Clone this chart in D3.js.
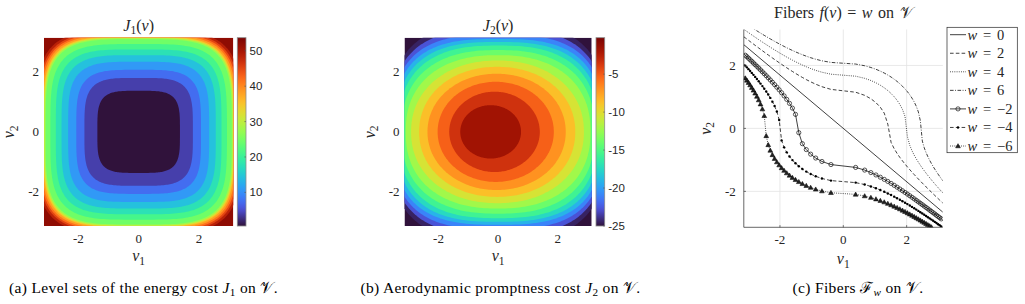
<!DOCTYPE html>
<html>
<head>
<meta charset="utf-8">
<script src="https://cdnjs.cloudflare.com/ajax/libs/d3/7.8.5/d3.min.js"></script>
<style>
  body { margin: 0; background: #fff; }
  svg text { font-family: "Liberation Serif", "Times New Roman", serif; fill: #262626; }
  svg text.cb { font-family: "Liberation Sans", Arial, sans-serif; }
  svg text.cap { fill: #000; letter-spacing: 0.35px; }
</style>
</head>
<body>
<script>
const PI = Math.PI;

// (a) J1: contour levels, their radius on the axes and on the diagonals
const j1Min = 0.5, j1Max = 53.7;
const j1Levels = [3.9, 7.4, 10.8, 14.2, 17.7, 21.1, 24.5, 27.9, 31.4, 34.8, 38.2, 41.7, 45.1, 48.5, 52.0];
const j1Axis = [1.37, 1.80, 2.07, 2.34, 2.56, 2.75, 2.93, 3.09, 3.125, 3.15, 3.18, 3.23, 3.285, 3.34, 3.406];
const j1Diag = [1.63, 2.14, 2.46, 2.78, 3.04, 3.27, 3.48, 3.67, 3.72, 3.75, 3.79, 3.85, 3.91, 3.97, 4.05];
const j1Ticks = [10, 20, 30, 40, 50];

// (b) J2: levels, centre along v1, radii along v1, along v2 and along the diagonals
const j2Min = -25, j2Max = -0.2;
const j2Levels = [-1.7, -3.45, -5.2, -6.95, -8.7, -10.45, -12.2, -13.95, -15.7, -17.45, -19.2, -20.95, -22.7, -24.45];
const j2Cx = [-0.25, -0.12, -0.08, -0.05, -0.03, -0.02, 0, 0, 0, 0, 0, 0, 0, 0];
const j2Rx = [1.02, 1.52, 1.95, 2.32, 2.62, 2.90, 3.10, 3.24, 3.34, 3.42, 3.49, 3.55, 3.61, 3.66];
const j2Ry = [0.89, 1.34, 1.67, 1.94, 2.17, 2.38, 2.56, 2.73, 2.88, 3.00, 3.10, 3.24, 3.42, 3.61];
const j2Diag = [0.95, 1.42, 1.80, 2.12, 2.40, 2.66, 2.92, 3.14, 3.34, 3.50, 3.64, 3.78, 3.92, 4.07];
const j2Ticks = [-25, -20, -15, -10, -5];

const axisTicks = [-2, 0, 2];

// (c) fibers f(v) = w, sampled on a common v1 grid
const fibV1 = [-3.1416,-3.0929,-3.0434,-2.9931,-2.9419,-2.8898,-2.8368,-2.7828,-2.7277,-2.6714,-2.6140,-2.5552,-2.4951,-2.4335,-2.3703,-2.3053,-2.2385,-2.1696,-2.0984,-2.0248,-1.9483,-1.8688,-1.7857,-1.6985,-1.6066,-1.5092,-1.4050,-1.2924,-1.1690,-1.0310,-0.8713,-0.6749,-0.3897,0.3897,0.6749,0.8713,1.0310,1.1690,1.2924,1.4050,1.5092,1.6066,1.6985,1.7857,1.8688,1.9483,2.0248,2.0984,2.1696,2.2385,2.3053,2.3703,2.4335,2.4951,2.5552,2.6140,2.6714,2.7277,2.7828,2.8368,2.8898,2.9419,2.9931,3.0434,3.0929,3.1416];
const fibW0 = { v1: [-3.1416, 3.1416], v2: [2.66, -2.66] };
const fibW2 = [2.9118,2.8743,2.8363,2.7978,2.7587,2.7191,2.6790,2.6382,2.5967,2.5546,2.5118,2.4682,2.4239,2.3787,2.3327,2.2857,2.2378,2.1888,2.1386,2.0873,2.0347,1.9807,1.9251,1.8680,1.8090,1.7480,1.6848,1.6191,1.5507,1.4791,1.4039,1.3244,1.2398,1.1490,1.0503,0.9414,0.8182,0.6727,0.4853,0.1365,-0.4453,-0.6444,-0.7951,-0.9214,-1.0324,-1.1326,-1.2247,-1.3102,-1.3905,-1.4665,-1.5386,-1.6076,-1.6737,-1.7373,-1.7986,-1.8580,-1.9154,-1.9713,-2.0255,-2.0784,-2.1299,-2.1803,-2.2294,-2.2776,-2.3247,-2.3709];
const fibW4 = [3.1475,3.1129,3.0778,3.0424,3.0065,2.9702,2.9335,2.8963,2.8586,2.8204,2.7817,2.7424,2.7026,2.6621,2.6211,2.5794,2.5370,2.4938,2.4500,2.4053,2.3598,2.3134,2.2660,2.2176,2.1682,2.1176,2.0657,2.0125,1.9579,1.9017,1.8437,1.7840,1.7221,1.6579,1.5912,1.5215,1.4484,1.3715,1.2900,1.2030,1.1092,1.0067,0.8925,0.7613,0.6022,0.3817,-0.2668,-0.5368,-0.7107,-0.8497,-0.9690,-1.0751,-1.1716,-1.2608,-1.3441,-1.4225,-1.4968,-1.5676,-1.6353,-1.7003,-1.7630,-1.8234,-1.8820,-1.9387,-1.9939,-2.0476];
const fibW6 = [3.3668,3.3344,3.3017,3.2687,3.2354,3.2017,3.1676,3.1332,3.0984,3.0632,3.0276,2.9916,2.9551,2.9181,2.8807,2.8428,2.8044,2.7655,2.7260,2.6859,2.6452,2.6039,2.5619,2.5192,2.4758,2.4316,2.3866,2.3407,2.2939,2.2461,2.1973,2.1474,2.0962,2.0438,1.9901,1.9348,1.8779,1.8192,1.7586,1.6958,1.6306,1.5627,1.4916,1.4171,1.3384,1.2547,1.1651,1.0679,0.9610,0.8406,0.6998,0.5223,0.2364,-0.4013,-0.6148,-0.7713,-0.9010,-1.0142,-1.1161,-1.2093,-1.2959,-1.3771,-1.4537,-1.5265,-1.5960,-1.6625];
const fibWm2 = [2.3709,2.3247,2.2776,2.2294,2.1803,2.1299,2.0784,2.0255,1.9713,1.9154,1.8580,1.7986,1.7373,1.6737,1.6076,1.5386,1.4665,1.3905,1.3102,1.2247,1.1326,1.0324,0.9214,0.7951,0.6444,0.4453,-0.1365,-0.4853,-0.6727,-0.8182,-0.9414,-1.0503,-1.1490,-1.2398,-1.3244,-1.4039,-1.4791,-1.5507,-1.6191,-1.6848,-1.7480,-1.8090,-1.8680,-1.9251,-1.9807,-2.0347,-2.0873,-2.1386,-2.1888,-2.2378,-2.2857,-2.3327,-2.3787,-2.4239,-2.4682,-2.5118,-2.5546,-2.5967,-2.6382,-2.6790,-2.7191,-2.7587,-2.7978,-2.8363,-2.8743,-2.9118];
const fibWm4 = [2.0476,1.9939,1.9387,1.8820,1.8234,1.7630,1.7003,1.6353,1.5676,1.4968,1.4225,1.3441,1.2608,1.1716,1.0751,0.9690,0.8497,0.7107,0.5368,0.2668,-0.3817,-0.6022,-0.7613,-0.8925,-1.0067,-1.1092,-1.2030,-1.2900,-1.3715,-1.4484,-1.5215,-1.5912,-1.6579,-1.7221,-1.7840,-1.8437,-1.9017,-1.9579,-2.0125,-2.0657,-2.1176,-2.1682,-2.2176,-2.2660,-2.3134,-2.3598,-2.4053,-2.4500,-2.4938,-2.5370,-2.5794,-2.6211,-2.6621,-2.7026,-2.7424,-2.7817,-2.8204,-2.8586,-2.8963,-2.9335,-2.9702,-3.0065,-3.0424,-3.0778,-3.1129,-3.1475];
const fibWm6 = [1.6625,1.5960,1.5265,1.4537,1.3771,1.2959,1.2093,1.1161,1.0142,0.9010,0.7713,0.6148,0.4013,-0.2364,-0.5223,-0.6998,-0.8406,-0.9610,-1.0679,-1.1651,-1.2547,-1.3384,-1.4171,-1.4916,-1.5627,-1.6306,-1.6958,-1.7586,-1.8192,-1.8779,-1.9348,-1.9901,-2.0438,-2.0962,-2.1474,-2.1973,-2.2461,-2.2939,-2.3407,-2.3866,-2.4316,-2.4758,-2.5192,-2.5619,-2.6039,-2.6452,-2.6859,-2.7260,-2.7655,-2.8044,-2.8428,-2.8807,-2.9181,-2.9551,-2.9916,-3.0276,-3.0632,-3.0984,-3.1332,-3.1676,-3.2017,-3.2354,-3.2687,-3.3017,-3.3344,-3.3668];
const fibLabels = ["0", "2", "4", "6", "\u22122", "\u22124", "\u22126"];

// ---------------------------------------------------------------
const svg = d3.select("body").append("svg").attr("width", 1025).attr("height", 304);
const defs = svg.append("defs");

// MATLAB-like turbo
function cmap(t) {
  t = Math.max(0, Math.min(1, t));
  if (t < 0.08) return d3.interpolateRgb("#30123b", d3.interpolateTurbo(0.08))(t / 0.08);
  if (t > 0.93) return d3.interpolateRgb(d3.interpolateTurbo(0.93), "#7a0403")((t - 0.93) / 0.07);
  return d3.interpolateTurbo(t);
}

// text with italic parts and subscripts
function mathText(g, x, y, parts, size, anchor, cls) {
  const t = g.append("text").attr("x", x).attr("y", y)
    .attr("font-size", size).attr("text-anchor", anchor || "middle");
  if (cls) t.attr("class", cls);
  let low = false;
  parts.forEach(([s, k]) => {
    const sp = t.append("tspan").text(s);
    if (k && k.includes("i")) sp.attr("font-style", "italic");
    if (k && k.includes("s")) {
      sp.attr("font-size", size * 0.72).attr("dy", low ? 0 : size * 0.22);
      low = true;
    } else if (low) {
      sp.attr("dy", -size * 0.22);
      low = false;
    }
  });
  return t;
}

// closed superellipse-like level curve through axis radii and diagonal radius
function levelPath(xs, ys, cx, rx, ry, d) {
  const diagAt = p => Math.SQRT2 * Math.pow(Math.pow(rx, -p) + Math.pow(ry, -p), -1 / p);
  let lo = 1.2, hi = 30;
  for (let i = 0; i < 50; i++) {
    const m = (lo + hi) / 2;
    if (diagAt(m) < d) lo = m; else hi = m;
  }
  const p = (lo + hi) / 2;
  const pts = d3.range(0, 360, 1.5).map(deg => {
    const th = deg * PI / 180, c = Math.cos(th), s = Math.sin(th);
    return [cx + rx * Math.sign(c) * Math.pow(Math.abs(c), 2 / p),
            ry * Math.sign(s) * Math.pow(Math.abs(s), 2 / p)];
  });
  return d3.line().x(q => xs(q[0])).y(q => ys(q[1]))(pts) + "Z";
}

function clipRect(id, xs, ys) {
  defs.append("clipPath").attr("id", id).append("rect")
    .attr("x", xs(-PI)).attr("y", ys(PI))
    .attr("width", xs(PI) - xs(-PI)).attr("height", ys(-PI) - ys(PI));
}

function imageAxes(xs, ys, title) {
  const g = svg.append("g");
  axisTicks.forEach(v => {
    g.append("text").attr("x", xs(v)).attr("y", ys(-PI) + 17).attr("font-size", 13)
      .attr("text-anchor", "middle").text(v);
    g.append("text").attr("x", xs(-PI) - 5).attr("y", ys(v) + 4.5).attr("font-size", 13)
      .attr("text-anchor", "end").text(v);
  });
  const xm = (xs(-PI) + xs(PI)) / 2, ym = (ys(-PI) + ys(PI)) / 2;
  mathText(g, xm, ys(-PI) + 35, [["v", "i"], ["1", "s"]], 16);
  mathText(g, 0, 0, [["v", "i"], ["2", "s"]], 16)
    .attr("transform", `translate(${xs(-PI) - 30},${ym}) rotate(-90)`);
  mathText(g, xm, ys(PI) - 7, title, 16);
}

function colorbar(id, x0, x1, ys, lo, hi, ticks) {
  const grad = defs.append("linearGradient").attr("id", id)
    .attr("x1", 0).attr("y1", 1).attr("x2", 0).attr("y2", 0);
  d3.range(0, 1.0001, 0.02).forEach(t => grad.append("stop")
    .attr("offset", t).attr("stop-color", cmap(t)));
  const g = svg.append("g");
  g.append("rect").attr("x", x0).attr("y", ys(hi)).attr("width", x1 - x0)
    .attr("height", ys(lo) - ys(hi)).attr("fill", `url(#${id})`)
    .attr("stroke", "#8c8c8c").attr("stroke-width", 0.8);
  ticks.forEach(v => {
    g.append("line").attr("x1", x1 - 1.6).attr("x2", x1).attr("y1", ys(v)).attr("y2", ys(v))
      .attr("stroke", "#555").attr("stroke-width", 0.6);
    g.append("text").attr("class", "cb").attr("x", x1 + 3.5).attr("y", ys(v) + 4)
      .attr("font-size", 11.5).text(v);
  });
}

// ---------------- (a) J1 ----------------
const xA = d3.scaleLinear().domain([-PI, PI]).range([44, 233.3]);
const yA = d3.scaleLinear().domain([-PI, PI]).range([226, 37.7]);
const tA = v => (v - j1Min) / (j1Max - j1Min);
clipRect("clipA", xA, yA);
const gA = svg.append("g").attr("clip-path", "url(#clipA)");
gA.append("rect").attr("x", xA(-PI)).attr("y", yA(PI))
  .attr("width", xA(PI) - xA(-PI)).attr("height", yA(-PI) - yA(PI))
  .attr("fill", cmap(tA(j1Levels[j1Levels.length - 1])));
for (let k = j1Levels.length - 1; k >= 0; k--) {
  gA.append("path")
    .attr("d", levelPath(xA, yA, 0, j1Axis[k], j1Axis[k], j1Diag[k]))
    .attr("fill", k === 0 ? cmap(0) : cmap(tA(j1Levels[k - 1])));
}
imageAxes(xA, yA, [["J", "i"], ["1", "s"], ["("], ["v", "i"], [")"]]);
const cbA = d3.scaleLinear().domain([j1Min, j1Max]).range([226, 37.7]);
colorbar("gradA", 237.3, 246, cbA, j1Min, j1Max, j1Ticks);

// ---------------- (b) J2 ----------------
const xB = d3.scaleLinear().domain([-PI, PI]).range([404.5, 591.7]);
const yB = d3.scaleLinear().domain([-PI, PI]).range([226, 37.7]);
const tB = v => (v - j2Min) / (j2Max - j2Min);
clipRect("clipB", xB, yB);
const gB = svg.append("g").attr("clip-path", "url(#clipB)");
gB.append("rect").attr("x", xB(-PI)).attr("y", yB(PI))
  .attr("width", xB(PI) - xB(-PI)).attr("height", yB(-PI) - yB(PI))
  .attr("fill", cmap(0));
for (let k = j2Levels.length - 1; k >= 0; k--) {
  gB.append("path")
    .attr("d", levelPath(xB, yB, j2Cx[k], j2Rx[k], j2Ry[k], j2Diag[k]))
    .attr("fill", cmap(tB(j2Levels[k])));
}
imageAxes(xB, yB, [["J", "i"], ["2", "s"], ["("], ["v", "i"], [")"]]);
const cbB = d3.scaleLinear().domain([j2Min, j2Max]).range([226, 37.7]);
colorbar("gradB", 596, 604.7, cbB, j2Min, j2Max, j2Ticks);

// ---------------- (c) fibers ----------------
const xC = d3.scaleLinear().domain([-PI, PI]).range([743.8, 942.8]);
const yC = d3.scaleLinear().domain([-PI, PI]).range([227.3, 29.5]);
clipRect("clipC", xC, yC);
const gC = svg.append("g");
axisTicks.forEach(v => {
  gC.append("line").attr("x1", xC(v)).attr("x2", xC(v)).attr("y1", yC(-PI)).attr("y2", yC(PI))
    .attr("stroke", "#e3e3e3").attr("stroke-width", 0.8);
  gC.append("line").attr("y1", yC(v)).attr("y2", yC(v)).attr("x1", xC(-PI)).attr("x2", xC(PI))
    .attr("stroke", "#e3e3e3").attr("stroke-width", 0.8);
});

const series = [
  { v1: fibW0.v1, v2: fibW0.v2, dash: null, mark: null },
  { v1: fibV1, v2: fibW2, dash: "3.6,2.2", mark: null },
  { v1: fibV1, v2: fibW4, dash: "0.9,1.3", mark: null },
  { v1: fibV1, v2: fibW6, dash: "3.6,1.5,0.9,1.5", mark: null },
  { v1: fibV1, v2: fibWm2, dash: null, mark: "circle" },
  { v1: fibV1, v2: fibWm4, dash: "3.6,2.2", mark: "dot" },
  { v1: fibV1, v2: fibWm6, dash: "0.9,1.3", mark: "tri" }
];
const line = d3.line().x(d => xC(d[0])).y(d => yC(d[1]));
const triangle = d3.symbol().type(d3.symbolTriangle).size(10);

function drawMark(g, kind, x, y) {
  if (kind === "circle") {
    g.append("circle").attr("cx", x).attr("cy", y).attr("r", 2.1)
      .attr("fill", "none").attr("stroke", "#000").attr("stroke-width", 0.65);
  } else if (kind === "dot") {
    g.append("circle").attr("cx", x).attr("cy", y).attr("r", 1.2).attr("fill", "#000");
  } else if (kind === "tri") {
    g.append("path").attr("d", triangle()).attr("transform", `translate(${x},${y + 0.4})`)
      .attr("fill", "#222").attr("stroke", "#000").attr("stroke-width", 0.5);
  }
}

const gLines = svg.append("g").attr("clip-path", "url(#clipC)");
series.forEach(s => {
  const pts = s.v1.map((v, i) => [v, s.v2[i]]);
  gLines.append("path").attr("d", line(pts)).attr("fill", "none")
    .attr("stroke", "#000").attr("stroke-width", 0.75)
    .attr("stroke-dasharray", s.dash);
  if (s.mark) {
    pts.filter(p => Math.abs(p[1]) <= PI && Math.abs(p[0]) <= PI)
      .forEach(p => drawMark(gLines, s.mark, xC(p[0]), yC(p[1])));
  }
});

// axes of (c)
const axC = svg.append("g");
axC.append("line").attr("x1", xC(-PI)).attr("x2", xC(-PI)).attr("y1", yC(-PI)).attr("y2", yC(PI))
  .attr("stroke", "#262626").attr("stroke-width", 0.7);
axC.append("line").attr("x1", xC(-PI)).attr("x2", xC(PI)).attr("y1", yC(-PI)).attr("y2", yC(-PI))
  .attr("stroke", "#262626").attr("stroke-width", 0.7);
axisTicks.forEach(v => {
  axC.append("line").attr("x1", xC(v)).attr("x2", xC(v)).attr("y1", yC(-PI)).attr("y2", yC(-PI) - 2.2)
    .attr("stroke", "#262626").attr("stroke-width", 0.6);
  axC.append("line").attr("x1", xC(-PI)).attr("x2", xC(-PI) + 2.2).attr("y1", yC(v)).attr("y2", yC(v))
    .attr("stroke", "#262626").attr("stroke-width", 0.6);
  axC.append("text").attr("x", xC(v)).attr("y", yC(-PI) + 17).attr("font-size", 13)
    .attr("text-anchor", "middle").text(v);
  axC.append("text").attr("x", xC(-PI) - 8).attr("y", yC(v) + 4.5).attr("font-size", 13)
    .attr("text-anchor", "end").text(v);
});
const xmC = (xC(-PI) + xC(PI)) / 2;
mathText(axC, xmC, yC(-PI) + 37, [["v", "i"], ["1", "s"]], 16);
mathText(axC, 0, 0, [["v", "i"], ["2", "s"]], 16)
  .attr("transform", `translate(${xC(-PI) - 33},${(yC(-PI) + yC(PI)) / 2}) rotate(-90)`);
mathText(axC, xmC, 18, [["Fibers "], ["f", "i"], ["("], ["v", "i"], [") = "], ["w", "i"], [" on "], ["\u{1D4B1}"]], 16)
  .attr("word-spacing", 1.5);

// legend
const lg = svg.append("g");
lg.append("rect").attr("x", 947).attr("y", 27.3).attr("width", 70.3).attr("height", 125.4)
  .attr("fill", "#fff").attr("stroke", "#262626").attr("stroke-width", 0.7);
series.forEach((s, i) => {
  const y = 34.7 + 18.55 * i;
  lg.append("line").attr("x1", 950).attr("x2", 966).attr("y1", y).attr("y2", y)
    .attr("stroke", "#000").attr("stroke-width", 0.75).attr("stroke-dasharray", s.dash);
  if (s.mark) drawMark(lg, s.mark, 958, y);
  mathText(lg, 967.5, y + 4.8, [["w", "i"], [" = " + fibLabels[i]]], 14.5, "start")
    .attr("word-spacing", 2.2);
});

// ---------------- captions ----------------
const caps = svg.append("g");
mathText(caps, 143.5, 293, [["(a) Level sets of the energy cost "], ["J", "i"], ["1", "s"], [" on "], ["\u{1D4B1}"], ["."]], 15.5, "middle", "cap");
mathText(caps, 500.5, 293, [["(b) Aerodynamic promptness cost "], ["J", "i"], ["2", "s"], [" on "], ["\u{1D4B1}"], ["."]], 15.5, "middle", "cap");
mathText(caps, 858, 293, [["(c) Fibers "], ["\u2131"], ["w", "is"], [" on "], ["\u{1D4B1}"], ["."]], 15.5, "middle", "cap");
</script>
</body>
</html>
